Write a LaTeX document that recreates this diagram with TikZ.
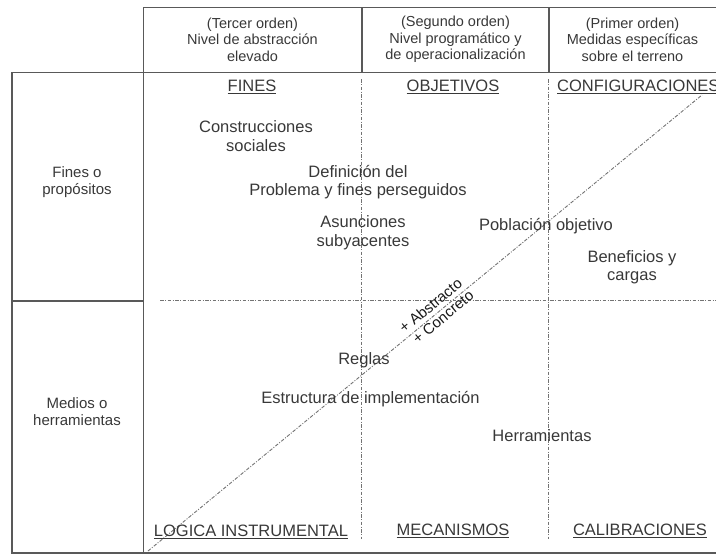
\documentclass[tikz,border=0pt]{standalone}
\usepackage{fontspec}
\setmainfont{Liberation Sans}
\begin{document}
\begin{tikzpicture}[x=1pt,y=-1pt,
  frame/.style={draw=black!65, line width=1.4pt},
  guide/.style={draw=black!55, line width=0.9pt,
    dash pattern=on 3.5pt off 1.5pt on 1pt off 1.5pt},
  head/.style={align=center, text=black!78, inner sep=0pt,
    font=\fontsize{14.5}{16.5}\selectfont},
  side/.style={align=center, text=black!78, inner sep=0pt,
    font=\fontsize{15}{17.5}\selectfont},
  item/.style={align=center, text=black!78, inner sep=0pt,
    font=\fontsize{16.5}{18.5}\selectfont},
  axislabel/.style={text=black!90, inner sep=0pt, rotate=39.5,
    font=\fontsize{15}{17}\selectfont},
]
\useasboundingbox (0,0) rectangle (716,554);
\clip (0,0) rectangle (716,554);

% frame corners
\coordinate (hTL) at (143.5,7.5);
\coordinate (hTR) at (720,7.5);
\coordinate (hB1) at (362,72.5);
\coordinate (hT1) at (362,7.5);
\coordinate (hB2) at (549,72.5);
\coordinate (hT2) at (549,7.5);
\coordinate (bTL) at (12,72.5);
\coordinate (bTR) at (720,72.5);
\coordinate (bBL) at (12,553);
\coordinate (bBR) at (720,553);
\coordinate (cB) at (143.5,553);
\coordinate (sL) at (12,301);
\coordinate (sR) at (143.5,301);

% solid frame
\draw[frame] (hTR) -- (hTL) -- (cB);
\draw[frame] (hT1) -- (hB1);
\draw[frame] (hT2) -- (hB2);
\draw[frame] (bTR) -- (bTL) -- (bBL) -- (bBR);
\draw[frame] (sL) -- (sR);

% guide lines inside the grid
\coordinate (v1t) at (361,79);
\coordinate (v1b) at (361,539);
\coordinate (v2t) at (548,79);
\coordinate (v2b) at (548,539);
\coordinate (hl) at (160,300);
\coordinate (hr) at (716,300);
\coordinate (d0) at (148,551);
\coordinate (d1) at (702,95);
\draw[guide] (v1t) -- (v1b);
\draw[guide] (v2t) -- (v2b);
\draw[guide] (hl) -- (hr);
\draw[guide] (d0) -- (d1);

% column headings
\node[head] (h3) at (252.5,39.5) {(Tercer orden)\\Nivel de abstracción\\elevado};
\node[head] (h2) at (455.5,39.5) {(Segundo orden)\\Nivel programático y\\de operacionalización};
\node[head] (h1) at (632.5,39.5) {(Primer orden)\\Medidas específicas\\sobre el terreno};

% row headings
\node[side] (rf) at (77,182) {Fines o\\propósitos};
\node[side] (rm) at (77,411.5) {Medios o\\herramientas};

% underlined category labels
\node[item] (fines) at (252,87) {\underline{FINES}};
\node[item] (objetivos) at (453,87) {\underline{OBJETIVOS}};
\node[item, anchor=west] (config) at (557,87) {\underline{CONFIGURACIONES}};
\node[item] (logica) at (251,532) {\underline{LOGICA INSTRUMENTAL}};
\node[item] (mecanismos) at (453,531) {\underline{MECANISMOS}};
\node[item] (calibraciones) at (640,531) {\underline{CALIBRACIONES}};

% items
\node[item] (construcciones) at (256,136) {Construcciones\\sociales};
\node[item] (definicion) at (358,182) {Definición del\\Problema y fines perseguidos};
\node[item] (asunciones) at (363,232.5) {Asunciones\\subyacentes};
\node[item] (poblacion) at (546,226) {Población objetivo};
\node[item] (beneficios) at (632,267) {Beneficios y\\cargas};
\node[item] (reglas) at (364,360) {Reglas};
\node[item] (estructura) at (370.5,399) {Estructura de implementación};
\node[item] (herramientas) at (542,436) {Herramientas};

% labels along the diagonal
\node[axislabel] (abstracto) at (430.5,305.5) {+ Abstracto};
\node[axislabel] (concreto) at (443,317) {+ Concreto};
\end{tikzpicture}
\end{document}
